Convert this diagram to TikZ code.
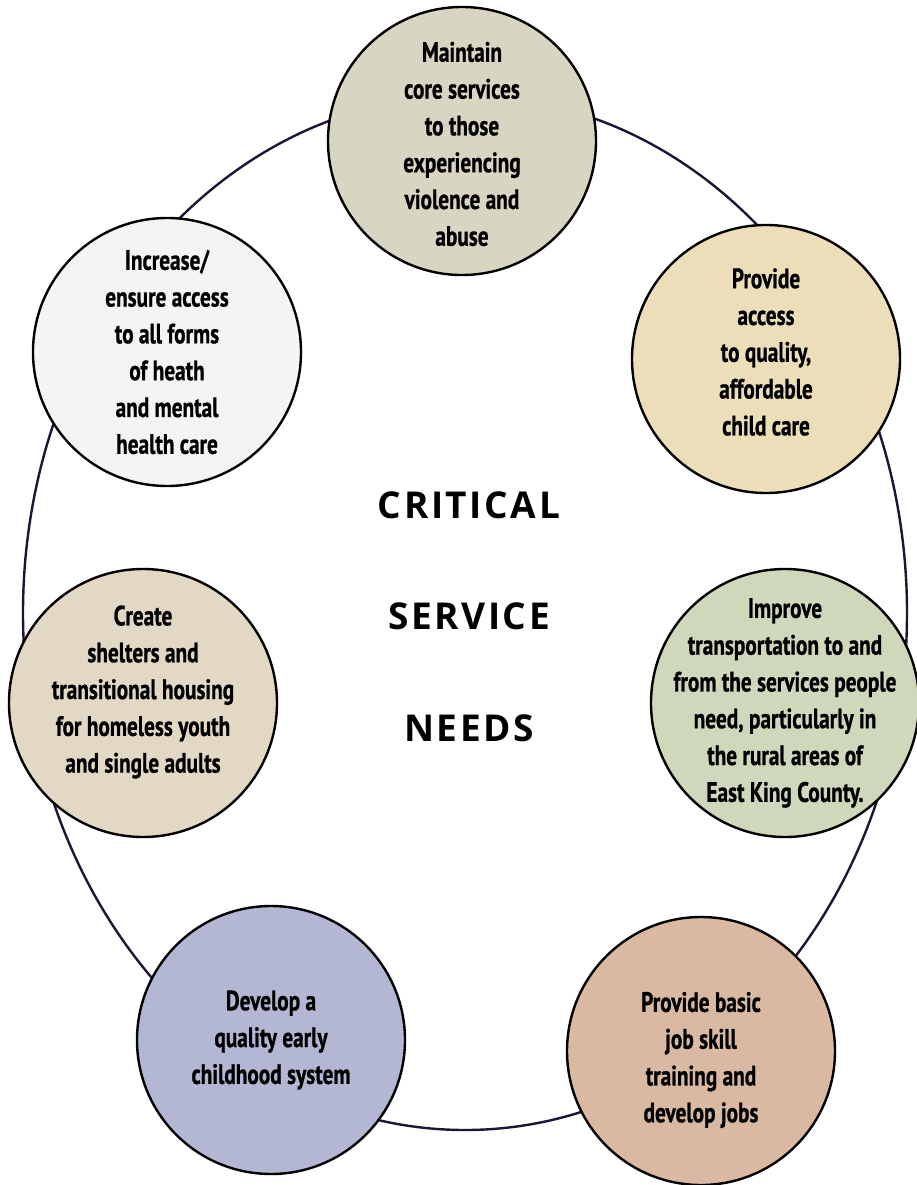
\documentclass[tikz,border=0pt]{standalone}
\usepackage{fontspec}
\setmainfont{PT Sans}
\newfontfamily\needfont[FakeStretch=0.76,FakeBold=0.8]{PT Sans}
\newfontfamily\headfont[LetterSpace=7]{Open Sans}

\definecolor{ringline}{HTML}{1F1433}
\definecolor{corefill}{HTML}{D9D5C3}
\definecolor{carefill}{HTML}{ECDEB8}
\definecolor{ridefill}{HTML}{D0D8BB}
\definecolor{jobfill}{HTML}{DAB9A2}
\definecolor{earlyfill}{HTML}{B4B7D3}
\definecolor{shelterfill}{HTML}{E3D8C4}
\definecolor{healthfill}{HTML}{F4F5F2}

\begin{document}
\begin{tikzpicture}[x=1pt,y=-1pt]
            \tikzstyle{every node}+=[inner sep=0pt]
            \tikzstyle{need}=[circle, draw=black, line width=2.4pt, minimum size=268pt]
            \tikzstyle{needtext}=[align=center, font=\needfont\bfseries\fontsize{28}{36.8}\selectfont]
            \tikzstyle{headline}=[font=\headfont\bfseries\fontsize{37}{40}\selectfont]
            \useasboundingbox (0,0) rectangle (916,1185);
            % the ring behind the circles
            \draw [ringline, line width=2.4pt] (465,613) ellipse [x radius=442pt, y radius=517pt];
            % needs, clockwise from the top
            \node [need, fill=corefill] (core) at (462,141) {};
            \node [needtext] (core-t) at ([yshift=-3]core) {Maintain\\core services\\to those\\experiencing\\violence and\\abuse};
            \node [need, fill=carefill] (care) at (766,359) {};
            \node [needtext] (care-t) at ([yshift=7]care) {Provide\\access\\to quality,\\affordable\\child care};
            \node [need, fill=ridefill] (ride) at (785,703) {};
            \node [needtext] (ride-t) at (ride) {Improve\\transportation to and\\from the services people\\need, particularly in\\the rural areas of\\East King County.};
            \node [need, fill=jobfill] (job) at (701,1051) {};
            \node [needtext] (job-t) at ([yshift=-9]job) {Provide basic\\job skill\\training and\\develop jobs};
            \node [need, fill=earlyfill] (early) at (271,1040) {};
            \node [needtext] (early-t) at (early) {Develop a\\quality early\\childhood system};
            \node [need, fill=shelterfill] (shelter) at (143,703) {};
            \node [needtext] (shelter-t) at ([yshift=11]shelter) {Create\\shelters and\\transitional housing\\for homeless youth\\and single adults};
            \node [need, fill=healthfill] (health) at (167,352) {};
            \node [needtext] (health-t) at (health) {Increase/\\ensure access\\to all forms\\of heath\\and mental\\health care};
            % title in the middle
            \node [headline] (critical) at (469,505) {CRITICAL};
            \node [headline] (service) at (469,616) {SERVICE};
            \node [headline] (needs) at (469,728) {NEEDS};
\end{tikzpicture}
\end{document}
